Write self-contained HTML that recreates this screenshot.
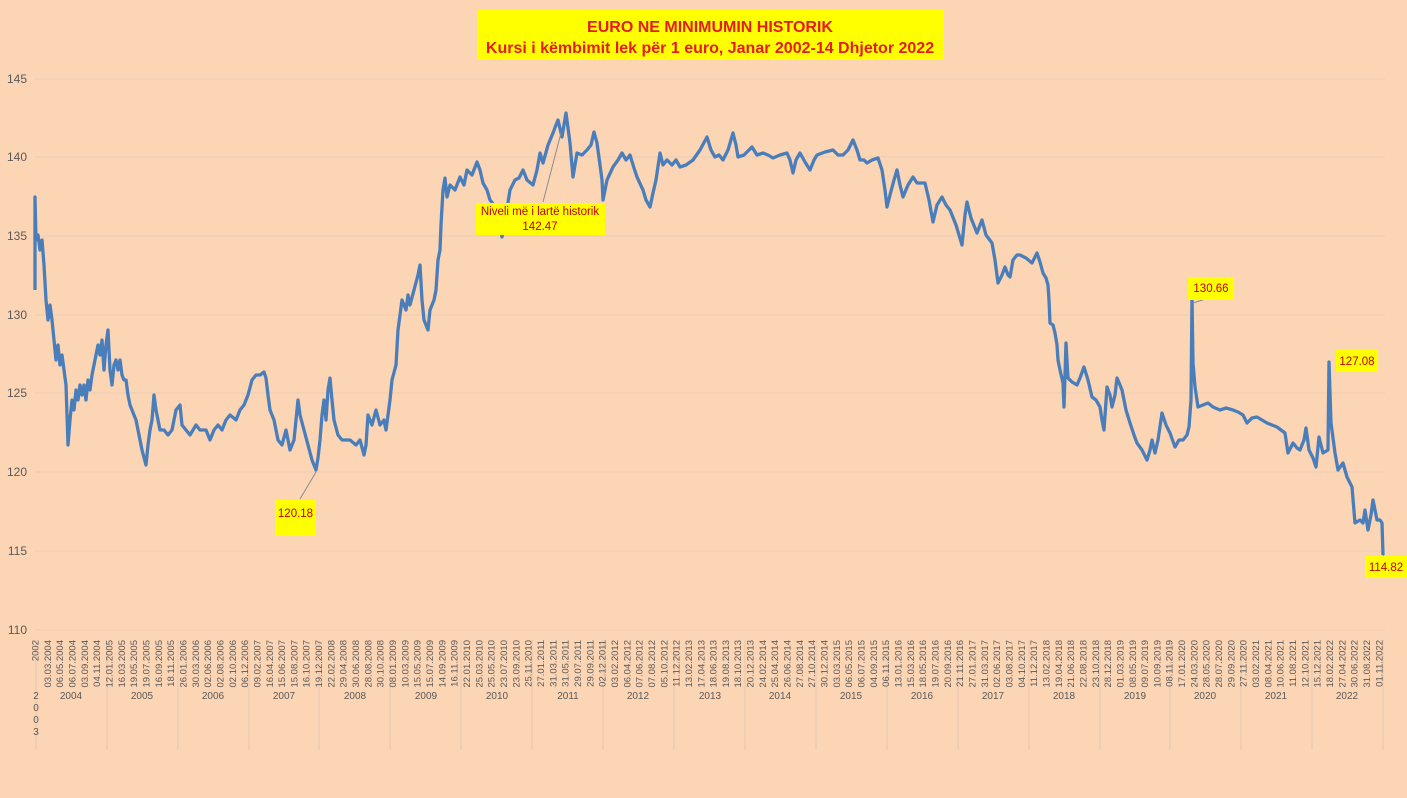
<!DOCTYPE html>
<html><head><meta charset="utf-8"><style>
html,body{margin:0;padding:0;background:#fcd5b5;}
svg{display:block;font-family:"Liberation Sans",Arial,sans-serif;}
</style></head><body>
<svg width="1407" height="798" viewBox="0 0 1407 798" xmlns="http://www.w3.org/2000/svg">
<rect width="1407" height="798" fill="#fcd5b5"/>
<g stroke="#e9cdb4" stroke-width="1">
<line x1="35" y1="79" x2="1385" y2="79"/><line x1="35" y1="157" x2="1385" y2="157"/>
<line x1="35" y1="236" x2="1385" y2="236"/><line x1="35" y1="315" x2="1385" y2="315"/>
<line x1="35" y1="393" x2="1385" y2="393"/><line x1="35" y1="472" x2="1385" y2="472"/>
<line x1="35" y1="551" x2="1385" y2="551"/><line x1="35" y1="630" x2="1385" y2="630"/>
</g>
<g fill="#595959" font-size="12" text-anchor="end">
<text x="27" y="83">145</text><text x="27" y="161">140</text><text x="27" y="240">135</text>
<text x="27" y="319">130</text><text x="27" y="397">125</text><text x="27" y="476">120</text>
<text x="27" y="555">115</text><text x="27" y="634">110</text>
</g>
<g stroke="#e2c8b0" stroke-width="1">
<line x1="36" y1="640" x2="36" y2="750"/><line x1="107" y1="640" x2="107" y2="750"/><line x1="178" y1="640" x2="178" y2="750"/><line x1="249" y1="640" x2="249" y2="750"/><line x1="319" y1="640" x2="319" y2="750"/><line x1="390" y1="640" x2="390" y2="750"/><line x1="461" y1="640" x2="461" y2="750"/><line x1="532" y1="640" x2="532" y2="750"/><line x1="603" y1="640" x2="603" y2="750"/><line x1="674" y1="640" x2="674" y2="750"/><line x1="745" y1="640" x2="745" y2="750"/><line x1="816" y1="640" x2="816" y2="750"/><line x1="887" y1="640" x2="887" y2="750"/><line x1="958" y1="640" x2="958" y2="750"/><line x1="1029" y1="640" x2="1029" y2="750"/><line x1="1100" y1="640" x2="1100" y2="750"/><line x1="1170" y1="640" x2="1170" y2="750"/><line x1="1241" y1="640" x2="1241" y2="750"/><line x1="1312" y1="640" x2="1312" y2="750"/><line x1="1383" y1="640" x2="1383" y2="750"/>
</g>
<g fill="#595959" font-size="9.5" text-anchor="end">
<text transform="translate(38.5,640) rotate(-90)">2002</text>
<text transform="translate(50.8,640) rotate(-90)">03.03.2004</text>
<text transform="translate(63.2,640) rotate(-90)">06.05.2004</text>
<text transform="translate(75.5,640) rotate(-90)">06.07.2004</text>
<text transform="translate(87.8,640) rotate(-90)">03.09.2004</text>
<text transform="translate(100.2,640) rotate(-90)">04.11.2004</text>
<text transform="translate(112.5,640) rotate(-90)">12.01.2005</text>
<text transform="translate(124.8,640) rotate(-90)">16.03.2005</text>
<text transform="translate(137.1,640) rotate(-90)">19.05.2005</text>
<text transform="translate(149.5,640) rotate(-90)">19.07.2005</text>
<text transform="translate(161.8,640) rotate(-90)">16.09.2005</text>
<text transform="translate(174.1,640) rotate(-90)">18.11.2005</text>
<text transform="translate(186.5,640) rotate(-90)">26.01.2006</text>
<text transform="translate(198.8,640) rotate(-90)">30.03.2006</text>
<text transform="translate(211.1,640) rotate(-90)">02.06.2006</text>
<text transform="translate(223.4,640) rotate(-90)">02.08.2006</text>
<text transform="translate(235.8,640) rotate(-90)">02.10.2006</text>
<text transform="translate(248.1,640) rotate(-90)">06.12.2006</text>
<text transform="translate(260.4,640) rotate(-90)">09.02.2007</text>
<text transform="translate(272.8,640) rotate(-90)">16.04.2007</text>
<text transform="translate(285.1,640) rotate(-90)">15.06.2007</text>
<text transform="translate(297.4,640) rotate(-90)">15.08.2007</text>
<text transform="translate(309.7,640) rotate(-90)">16.10.2007</text>
<text transform="translate(322.1,640) rotate(-90)">19.12.2007</text>
<text transform="translate(334.4,640) rotate(-90)">22.02.2008</text>
<text transform="translate(346.7,640) rotate(-90)">29.04.2008</text>
<text transform="translate(359.1,640) rotate(-90)">30.06.2008</text>
<text transform="translate(371.4,640) rotate(-90)">28.08.2008</text>
<text transform="translate(383.7,640) rotate(-90)">30.10.2008</text>
<text transform="translate(396.0,640) rotate(-90)">08.01.2009</text>
<text transform="translate(408.4,640) rotate(-90)">10.03.2009</text>
<text transform="translate(420.7,640) rotate(-90)">15.05.2009</text>
<text transform="translate(433.0,640) rotate(-90)">15.07.2009</text>
<text transform="translate(445.4,640) rotate(-90)">14.09.2009</text>
<text transform="translate(457.7,640) rotate(-90)">16.11.2009</text>
<text transform="translate(470.0,640) rotate(-90)">22.01.2010</text>
<text transform="translate(482.3,640) rotate(-90)">25.03.2010</text>
<text transform="translate(494.7,640) rotate(-90)">25.05.2010</text>
<text transform="translate(507.0,640) rotate(-90)">23.07.2010</text>
<text transform="translate(519.3,640) rotate(-90)">23.09.2010</text>
<text transform="translate(531.7,640) rotate(-90)">25.11.2010</text>
<text transform="translate(544.0,640) rotate(-90)">27.01.2011</text>
<text transform="translate(556.3,640) rotate(-90)">31.03.2011</text>
<text transform="translate(568.6,640) rotate(-90)">31.05.2011</text>
<text transform="translate(581.0,640) rotate(-90)">29.07.2011</text>
<text transform="translate(593.3,640) rotate(-90)">29.09.2011</text>
<text transform="translate(605.6,640) rotate(-90)">02.12.2011</text>
<text transform="translate(618.0,640) rotate(-90)">03.02.2012</text>
<text transform="translate(630.3,640) rotate(-90)">06.04.2012</text>
<text transform="translate(642.6,640) rotate(-90)">07.06.2012</text>
<text transform="translate(654.9,640) rotate(-90)">07.08.2012</text>
<text transform="translate(667.3,640) rotate(-90)">05.10.2012</text>
<text transform="translate(679.6,640) rotate(-90)">11.12.2012</text>
<text transform="translate(691.9,640) rotate(-90)">13.02.2013</text>
<text transform="translate(704.3,640) rotate(-90)">17.04.2013</text>
<text transform="translate(716.6,640) rotate(-90)">18.06.2013</text>
<text transform="translate(728.9,640) rotate(-90)">19.08.2013</text>
<text transform="translate(741.2,640) rotate(-90)">18.10.2013</text>
<text transform="translate(753.6,640) rotate(-90)">20.12.2013</text>
<text transform="translate(765.9,640) rotate(-90)">24.02.2014</text>
<text transform="translate(778.2,640) rotate(-90)">25.04.2014</text>
<text transform="translate(790.6,640) rotate(-90)">26.06.2014</text>
<text transform="translate(802.9,640) rotate(-90)">27.08.2014</text>
<text transform="translate(815.2,640) rotate(-90)">27.10.2014</text>
<text transform="translate(827.5,640) rotate(-90)">30.12.2014</text>
<text transform="translate(839.9,640) rotate(-90)">03.03.2015</text>
<text transform="translate(852.2,640) rotate(-90)">06.05.2015</text>
<text transform="translate(864.5,640) rotate(-90)">06.07.2015</text>
<text transform="translate(876.9,640) rotate(-90)">04.09.2015</text>
<text transform="translate(889.2,640) rotate(-90)">06.11.2015</text>
<text transform="translate(901.5,640) rotate(-90)">13.01.2016</text>
<text transform="translate(913.8,640) rotate(-90)">15.03.2016</text>
<text transform="translate(926.2,640) rotate(-90)">18.05.2016</text>
<text transform="translate(938.5,640) rotate(-90)">19.07.2016</text>
<text transform="translate(950.8,640) rotate(-90)">20.09.2016</text>
<text transform="translate(963.2,640) rotate(-90)">21.11.2016</text>
<text transform="translate(975.5,640) rotate(-90)">27.01.2017</text>
<text transform="translate(987.8,640) rotate(-90)">31.03.2017</text>
<text transform="translate(1000.1,640) rotate(-90)">02.06.2017</text>
<text transform="translate(1012.5,640) rotate(-90)">03.08.2017</text>
<text transform="translate(1024.8,640) rotate(-90)">04.10.2017</text>
<text transform="translate(1037.1,640) rotate(-90)">11.12.2017</text>
<text transform="translate(1049.5,640) rotate(-90)">13.02.2018</text>
<text transform="translate(1061.8,640) rotate(-90)">19.04.2018</text>
<text transform="translate(1074.1,640) rotate(-90)">21.06.2018</text>
<text transform="translate(1086.4,640) rotate(-90)">22.08.2018</text>
<text transform="translate(1098.8,640) rotate(-90)">23.10.2018</text>
<text transform="translate(1111.1,640) rotate(-90)">28.12.2018</text>
<text transform="translate(1123.4,640) rotate(-90)">01.03.2019</text>
<text transform="translate(1135.8,640) rotate(-90)">08.05.2019</text>
<text transform="translate(1148.1,640) rotate(-90)">09.07.2019</text>
<text transform="translate(1160.4,640) rotate(-90)">10.09.2019</text>
<text transform="translate(1172.7,640) rotate(-90)">08.11.2019</text>
<text transform="translate(1185.1,640) rotate(-90)">17.01.2020</text>
<text transform="translate(1197.4,640) rotate(-90)">24.03.2020</text>
<text transform="translate(1209.7,640) rotate(-90)">28.05.2020</text>
<text transform="translate(1222.1,640) rotate(-90)">28.07.2020</text>
<text transform="translate(1234.4,640) rotate(-90)">29.09.2020</text>
<text transform="translate(1246.7,640) rotate(-90)">27.11.2020</text>
<text transform="translate(1259.0,640) rotate(-90)">03.02.2021</text>
<text transform="translate(1271.4,640) rotate(-90)">08.04.2021</text>
<text transform="translate(1283.7,640) rotate(-90)">10.06.2021</text>
<text transform="translate(1296.0,640) rotate(-90)">11.08.2021</text>
<text transform="translate(1308.4,640) rotate(-90)">12.10.2021</text>
<text transform="translate(1320.7,640) rotate(-90)">15.12.2021</text>
<text transform="translate(1333.0,640) rotate(-90)">18.02.2022</text>
<text transform="translate(1345.3,640) rotate(-90)">27.04.2022</text>
<text transform="translate(1357.7,640) rotate(-90)">30.06.2022</text>
<text transform="translate(1370.0,640) rotate(-90)">31.08.2022</text>
<text transform="translate(1382.3,640) rotate(-90)">01.11.2022</text>
</g>
<g fill="#595959" font-size="10" text-anchor="middle">
<text x="71" y="699">2004</text><text x="142" y="699">2005</text><text x="213" y="699">2006</text><text x="284" y="699">2007</text><text x="355" y="699">2008</text><text x="426" y="699">2009</text><text x="497" y="699">2010</text><text x="568" y="699">2011</text><text x="638" y="699">2012</text><text x="710" y="699">2013</text><text x="780" y="699">2014</text><text x="851" y="699">2015</text><text x="922" y="699">2016</text><text x="993" y="699">2017</text><text x="1064" y="699">2018</text><text x="1135" y="699">2019</text><text x="1205" y="699">2020</text><text x="1276" y="699">2021</text><text x="1347" y="699">2022</text>
<text x="36" y="699">2</text><text x="36" y="711">0</text><text x="36" y="723">0</text><text x="36" y="735">3</text>
</g>
<polyline fill="none" stroke="#4a7ebb" stroke-width="3.3" stroke-linejoin="round" points="35,290 35,197 36,240 38,235 40,250 42,240 44,265 46,300 48,320 50,305 52,320 54,340 56,360 58,345 60,365 62,355 64,370 66,385 68,445 70,420 72,400 74,410 76,390 78,400 80,385 82,395 84,385 86,400 88,380 90,390 92,375 94,365 96,355 98,345 100,355 102,340 104,370 106,345 108,330 110,370 112,385 114,365 116,360 118,370 120,360 122,375 124,380 126,380 128,395 130,405 132,410 134,415 136,420 138,430 140,440 142,450 146,465 148,445 150,430 152,420 154,395 156,410 158,420 160,430 164,430 168,435 172,430 176,410 180,405 182,425 186,430 190,435 196,425 200,430 206,430 210,440 214,430 218,425 222,430 226,420 230,415 236,420 240,410 244,405 248,395 252,380 256,375 260,375 264,372 266,378 268,395 270,410 274,420 278,440 282,445 286,430 290,450 294,440 298,400 300,415 304,430 308,445 312,460 316,470 318,458 320,440 322,415 324,400 326,420 328,390 330,378 332,400 334,420 338,435 342,440 350,440 356,445 360,440 364,455 366,445 368,415 372,425 376,410 380,425 384,420 386,430 390,400 392,380 396,365 398,330 402,300 406,310 408,295 410,305 414,290 418,275 420,265 422,300 424,320 426,325 428,330 430,310 434,300 436,290 438,260 440,250 441,225 443,190 445,178 447,197 450,185 455,190 460,177 464,185 467,170 472,175 477,162 480,170 483,183 487,190 490,200 494,205 498,215 502,237 506,215 510,190 515,180 519,178 523,170 527,180 533,185 537,170 540,153 543,163 548,145 553,133 556,125 558,120 562,137 566,113 570,143 573,177 577,153 582,155 587,150 591,145 594,132 597,143 600,165 602,180 603,200 607,180 613,167 618,160 622,153 626,160 630,155 634,168 637,177 643,190 646,200 650,207 653,193 656,180 660,153 663,165 667,160 672,165 676,160 680,167 686,165 693,160 700,150 707,137 711,150 715,157 719,155 723,160 728,150 733,133 736,145 738,157 744,155 752,147 757,155 763,153 768,155 773,158 780,155 787,153 790,160 793,173 796,160 800,153 805,162 810,170 814,160 817,155 825,152 833,150 838,155 843,155 848,150 853,140 857,150 860,160 864,160 867,163 872,160 878,158 882,170 885,190 887,207 890,195 894,180 897,170 900,185 903,197 908,185 913,177 917,183 920,183 925,183 929,200 933,222 937,205 942,197 946,205 950,210 956,225 962,245 965,215 967,202 971,218 977,233 982,220 986,235 992,243 995,260 998,283 1002,275 1005,267 1008,275 1010,277 1013,260 1017,255 1020,255 1026,258 1032,263 1037,253 1040,262 1043,273 1046,278 1048,285 1049,300 1050,323 1053,325 1055,333 1057,345 1058,360 1060,370 1063,383 1064,407 1066,343 1068,378 1072,382 1077,385 1080,378 1084,367 1088,380 1092,397 1096,400 1100,407 1102,420 1104,430 1107,387 1110,395 1112,407 1115,395 1117,378 1120,385 1122,390 1126,410 1130,423 1134,435 1137,443 1142,450 1147,460 1150,450 1152,440 1155,453 1158,440 1162,413 1166,425 1170,433 1175,447 1179,440 1183,440 1187,435 1189,427 1191,400 1192,298 1193,363 1195,387 1198,407 1203,405 1208,403 1213,407 1220,410 1226,408 1233,410 1238,412 1243,415 1247,423 1252,418 1257,417 1262,420 1267,423 1272,425 1277,427 1281,430 1285,433 1288,453 1293,443 1297,448 1300,450 1304,440 1306,428 1309,450 1313,458 1316,467 1319,437 1323,453 1328,450 1329,362 1331,423 1335,453 1338,470 1343,463 1347,477 1352,487 1355,523 1360,520 1363,523 1365,510 1368,530 1371,515 1373,500 1377,520 1380,520 1382,523 1383,555"/>
<g stroke="#8c8c8c" stroke-width="1">
<line x1="543" y1="202" x2="561" y2="133"/>
<line x1="300" y1="499" x2="316" y2="472"/>
<line x1="1193" y1="303" x2="1212" y2="297"/>
<line x1="1383" y1="555" x2="1386" y2="560"/>
</g>
<g fill="#ffff00">
<rect x="477" y="10" width="467" height="50"/>
<rect x="476" y="203" width="129" height="32"/>
<rect x="275" y="500" width="41" height="36"/>
<rect x="1188" y="277" width="46" height="23"/>
<rect x="1336" y="350" width="42" height="22"/>
<rect x="1365" y="556" width="42" height="22"/>
</g>
<g fill="#e31c1c" font-weight="bold" font-size="16" text-anchor="middle">
<text x="710" y="32">EURO NE MINIMUMIN HISTORIK</text>
<text x="710" y="53">Kursi i këmbimit lek për 1 euro, Janar 2002-14 Dhjetor 2022</text>
</g>
<g fill="#c00000" font-size="11.5" text-anchor="middle">
<text x="540" y="215">Niveli më i lartë historik</text>
<text x="540" y="230">142.47</text>
<text x="295.5" y="517">120.18</text>
<text x="1211" y="292">130.66</text>
<text x="1357" y="365">127.08</text>
<text x="1386" y="571">114.82</text>
</g>
</svg>
</body></html>
